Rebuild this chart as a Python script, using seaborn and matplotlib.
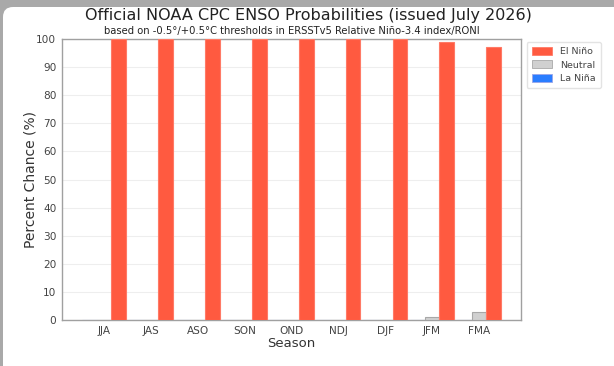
import numpy as np
import pandas as pd
import seaborn as sns
import matplotlib.pyplot as plt
from matplotlib.patches import FancyBboxPatch

# Season labels and ENSO category probabilities (%)
seasons = ["JJA", "JAS", "ASO", "SON", "OND", "NDJ", "DJF", "JFM", "FMA"]
la_nina = [0, 0, 0, 0, 0, 0, 0, 0, 0]
neutral = [0, 0, 0, 0, 0, 0, 0, 1, 3]
el_nino = [100, 100, 100, 100, 100, 100, 100, 99, 97]

categories = ["La Niña", "Neutral", "El Niño"]
colors = {"La Niña": "#2a7dff", "Neutral": "#d0d0d0", "El Niño": "#ff5a40"}
edges = {"La Niña": "#9aa6e8", "Neutral": "#a8a8a8", "El Niño": "#ff7a66"}

df = pd.DataFrame({
    "Season": seasons * 3,
    "Category": ["La Niña"] * 9 + ["Neutral"] * 9 + ["El Niño"] * 9,
    "Chance": la_nina + neutral + el_nino,
})

sns.set_style("white")
plt.rcParams['font.family'] = ['DejaVu Sans']

fig = plt.figure(figsize=(6.14, 3.66), dpi=100)
fig.patch.set_facecolor("#a9a9a9")
# white rounded panel like the screenshot
panel = FancyBboxPatch((3, -20), 630, 379, boxstyle="round,pad=0,rounding_size=10",
                       transform=None, facecolor="white", edgecolor="none", zorder=-10)
fig.patches.append(panel)

ax = fig.add_axes([62 / 614, 1 - 320 / 366, (521 - 62) / 614, (320 - 39) / 366])
sns.barplot(data=df, x="Season", y="Chance", hue="Category", hue_order=categories,
            palette=colors, saturation=1, width=0.94, gap=0, ax=ax, legend=False, zorder=3)

for cont, cat in zip(ax.containers, categories):
    for bar in cont:
        bar.set_edgecolor(edges[cat])
        bar.set_linewidth(0.8)

ax.set_ylim(0, 100)
ax.set_xlim(-0.9, 8.9)
ax.set_yticks(np.arange(0, 101, 10))
ax.yaxis.grid(True, color="#eeeeee", linewidth=0.8, zorder=0)
ax.tick_params(axis="both", labelsize=7.6, colors="#444444", length=2.5, width=0.8, pad=1.5)
for s in ax.spines.values():
    s.set_color("#a0a0a0")
    s.set_linewidth(1.0)

ax.set_xlabel("Season", fontsize=9.5, color="#333333", labelpad=1)
ax.set_ylabel("Percent Chance (%)", fontsize=10, color="#333333", labelpad=-1)

fig.text(0.503, 0.957, "Official NOAA CPC ENSO Probabilities (issued July 2026)",
         ha="center", va="center", fontsize=11.5, color="#222222")
fig.text(0.476, 0.914, "based on -0.5°/+0.5°C thresholds in ERSSTv5 Relative Niño-3.4 index/RONI",
         ha="center", va="center", fontsize=7.2, color="#222222")

# legend in El Niño, Neutral, La Niña order
handles = [plt.Rectangle((0, 0), 1, 1, facecolor=colors[c], edgecolor=edges[c], linewidth=0.6)
           for c in ["El Niño", "Neutral", "La Niña"]]
leg = ax.legend(handles, ["El Niño", "Neutral", "La Niña"], loc="upper left",
                bbox_to_anchor=(1.012, 0.99), borderaxespad=0, fontsize=6.8, frameon=True,
                handlelength=2.2, handleheight=0.9, borderpad=0.55, labelspacing=0.45)
leg.get_frame().set_edgecolor("#dddddd")
for t in leg.get_texts():
    t.set_color("#444444")

plt.savefig("out.png", dpi=100)
